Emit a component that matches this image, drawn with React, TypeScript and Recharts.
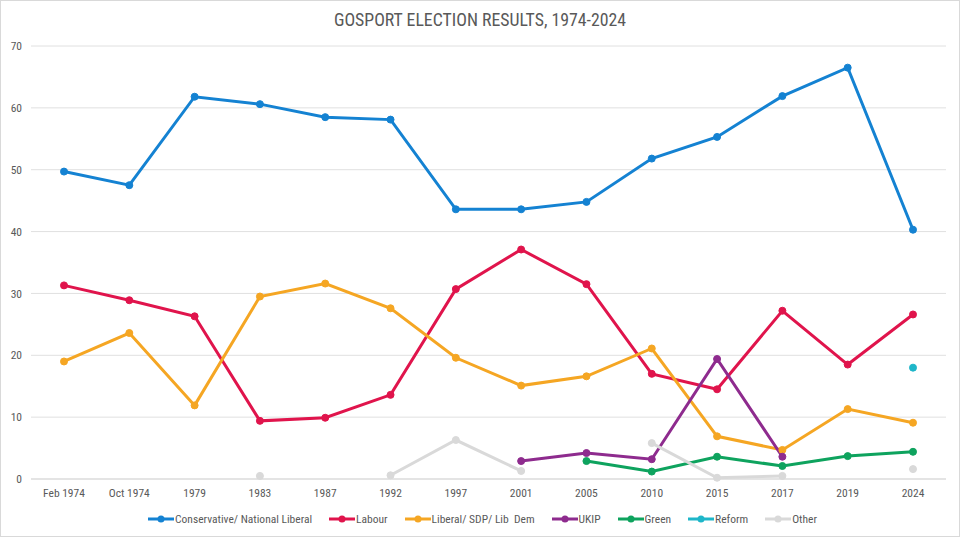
import { type ReactElement } from "react";
import { LineChart, Line, XAxis, YAxis, CartesianGrid, Legend } from "recharts";

const years = [
  "Feb 1974", "Oct 1974", "1979", "1983", "1987", "1992", "1997",
  "2001", "2005", "2010", "2015", "2017", "2019", "2024",
];

// vote share in percent, null where the party did not stand
const conservative = [49.7, 47.5, 61.8, 60.6, 58.5, 58.1, 43.6, 43.6, 44.8, 51.8, 55.3, 61.9, 66.5, 40.3];
const labour = [31.3, 28.9, 26.3, 9.4, 9.9, 13.6, 30.7, 37.1, 31.5, 17.0, 14.5, 27.2, 18.5, 26.6];
const libDem = [19.0, 23.6, 11.9, 29.5, 31.6, 27.6, 19.6, 15.1, 16.6, 21.1, 6.9, 4.7, 11.3, 9.1];
const ukip = [null, null, null, null, null, null, null, 2.9, 4.2, 3.2, 19.4, 3.6, null, null];
const green = [null, null, null, null, null, null, null, null, 2.9, 1.2, 3.6, 2.1, 3.7, 4.4];
const reform = [null, null, null, null, null, null, null, null, null, null, null, null, null, 18.0];
const other = [null, null, null, 0.5, null, 0.6, 6.3, 1.3, null, 5.8, 0.2, 0.5, null, 1.6];

const yTicks = [0, 10, 20, 30, 40, 50, 60, 70];

const series = [
  { key: "con", name: "Conservative/ National Liberal", color: "#1482d2", values: conservative },
  { key: "lab", name: "Labour", color: "#e0144c", values: labour },
  { key: "lib", name: "Liberal/ SDP/ Lib  Dem", color: "#f5a623", values: libDem },
  { key: "ukip", name: "UKIP", color: "#8e2b8e", values: ukip },
  { key: "green", name: "Green", color: "#0ea35e", values: green },
  { key: "reform", name: "Reform", color: "#1eb6c9", values: reform },
  { key: "other", name: "Other", color: "#d9d9d9", values: other },
];

const data = years.map((year, i) => {
  const row: Record<string, string | number | null> = { year };
  series.forEach((s) => {
    row[s.key] = s.values[i];
  });
  return row;
});

const FONT = "'Liberation Sans Narrow', 'Roboto Condensed', Roboto, sans-serif";

function LegendRow(): ReactElement {
  return (
    <div
      style={{
        display: "flex",
        justifyContent: "center",
        gap: 17,
        fontFamily: FONT,
        fontSize: 11.5,
        color: "#595959",
        marginLeft: 18,
      }}
    >
      {series.map((s) => (
        <div key={s.key} style={{ display: "flex", alignItems: "center" }}>
          <svg width={26} height={10} style={{ marginRight: 1 }}>
            <line x1={0} y1={5} x2={26} y2={5} stroke={s.color} strokeWidth={3} />
            <circle cx={13} cy={5} r={3.5} fill={s.color} />
          </svg>
          <span style={{ whiteSpace: "pre" }}>{s.name}</span>
        </div>
      ))}
    </div>
  );
}

export default function App(): ReactElement {
  return (
    <div
      style={{
        position: "fixed",
        left: 0,
        top: 0,
        width: 958,
        height: 535,
        border: "1px solid #d9d9d9",
        background: "#fff",
      }}
    >
      <div
        style={{
          position: "absolute",
          top: 8,
          width: "100%",
          textAlign: "center",
          fontFamily: FONT,
          fontSize: 17.8,
          color: "#595959",
        }}
      >
        GOSPORT ELECTION RESULTS, 1974-2024
      </div>
      <LineChart
        width={958}
        height={535}
        data={data}
        margin={{ top: 45, right: 13, bottom: 10, left: 0 }}
        style={{ fontFamily: FONT }}
      >
        <CartesianGrid vertical={false} stroke="#e0e0e0" />
        <XAxis
          dataKey="year"
          axisLine={{ stroke: "#d9d9d9" }}
          tickLine={false}
          tick={{ fill: "#595959", fontSize: 11.5 }}
          tickMargin={4}
          interval={0}
          height={33}
          padding={{ left: 33, right: 33 }}
        />
        <YAxis
          domain={[0, 70]}
          ticks={yTicks}
          axisLine={false}
          tickLine={false}
          tick={{ fill: "#595959", fontSize: 11.5 }}
          tickMargin={3}
          width={30}
        />
        <Legend content={() => <LegendRow />} verticalAlign="bottom" />
        {series.map((s) => (
          <Line
            key={s.key}
            dataKey={s.key}
            name={s.name}
            stroke={s.color}
            strokeWidth={3}
            dot={{ r: 3.5, fill: s.color, stroke: s.color, strokeWidth: 1 }}
            activeDot={false}
            connectNulls={false}
            isAnimationActive={false}
            type="linear"
          />
        ))}
      </LineChart>
    </div>
  );
}
